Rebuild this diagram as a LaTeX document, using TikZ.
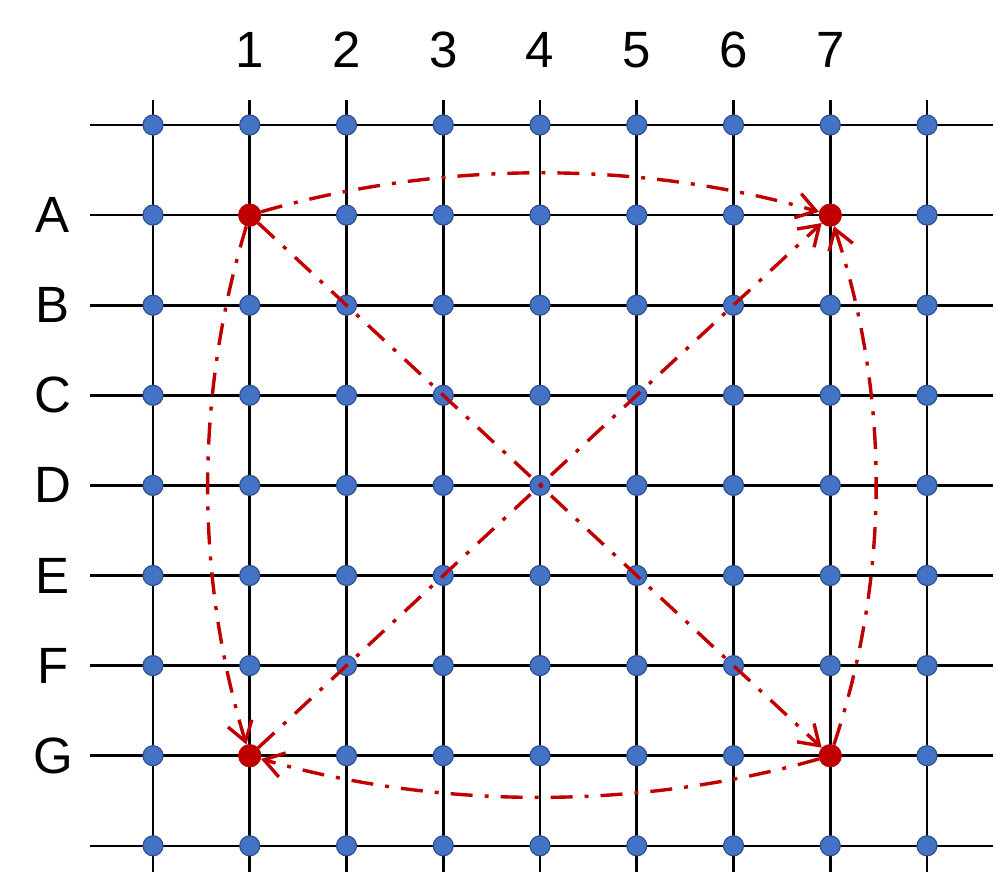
\documentclass[tikz,border=0pt]{standalone}
\usepackage{fontspec}
\setmainfont{Liberation Sans}
\usetikzlibrary{arrows.meta}
\definecolor{dotblue}{HTML}{4472C4}
\definecolor{dotedge}{HTML}{2F528F}
\definecolor{pathred}{HTML}{C00000}
\begin{document}
\begin{tikzpicture}[x=1pt,y=-1pt,
  gridline/.style={line width=2.6pt,black},
  bdot/.style={circle,fill=dotblue,draw=dotedge,line width=1.2pt,minimum size=20pt,inner sep=0pt},
  rdot/.style={circle,fill=pathred,minimum size=23pt,inner sep=0pt},
  route/.style={pathred,line width=3.4pt,dash pattern=on 22pt off 12pt on 4pt off 12pt,
    -{Straight Barb[length=19pt,width=25pt,line width=3.4pt]}},
  lab/.style={font=\fontsize{51}{56}\selectfont,inner sep=0pt}]
\useasboundingbox (0,0) rectangle (996,880);
% grid lines
\foreach \i in {0,...,8} {
  \pgfmathsetmacro\xx{153+96.75*\i}
  \draw[gridline] (\xx,100) -- (\xx,872);
}
\foreach \j in {0,...,8} {
  \pgfmathsetmacro\yy{125+90.1*\j}
  \draw[gridline] (90,\yy) -- (993,\yy);
}
% grid dots
\foreach \i in {0,...,8} {
  \foreach \j in {0,...,8} {
    \pgfmathsetmacro\xx{153+96.75*\i}
    \pgfmathsetmacro\yy{125+90.1*\j}
    \node[bdot] (d\i-\j) at (\xx,\yy) {};
  }
}
% column labels
\foreach \i in {1,...,7} {
  \pgfmathsetmacro\xx{153+96.75*\i}
  \node[lab] (c\i) at (\xx,50) {\i};
}
% row labels
\foreach \r [count=\j] in {A,B,C,D,E,F,G} {
  \pgfmathsetmacro\yy{125+90.1*\j}
  \node[lab] (r\r) at (53,\yy) {\r};
}
% red corner nodes
\node[rdot] (A1) at (249.75,215.1) {};
\node[rdot] (A7) at (830.25,215.1) {};
\node[rdot] (G1) at (249.75,755.7) {};
\node[rdot] (G7) at (830.25,755.7) {};
% routes
\draw[route] (A1) .. controls (440,160) and (640,160) .. (A7);
\draw[route] (A1) .. controls (195,395) and (195,576) .. (G1);
\draw[route] (G7) .. controls (890,576) and (890,395) .. (A7);
\draw[route] (G7) .. controls (640,810) and (440,810) .. (G1);
\draw[route] (A1) -- (G7);
\draw[route] (G1) -- (A7);
% redraw red dots on top
\node[rdot] at (A1) {};
\node[rdot] at (A7) {};
\node[rdot] at (G1) {};
\node[rdot] at (G7) {};
\end{tikzpicture}
\end{document}
